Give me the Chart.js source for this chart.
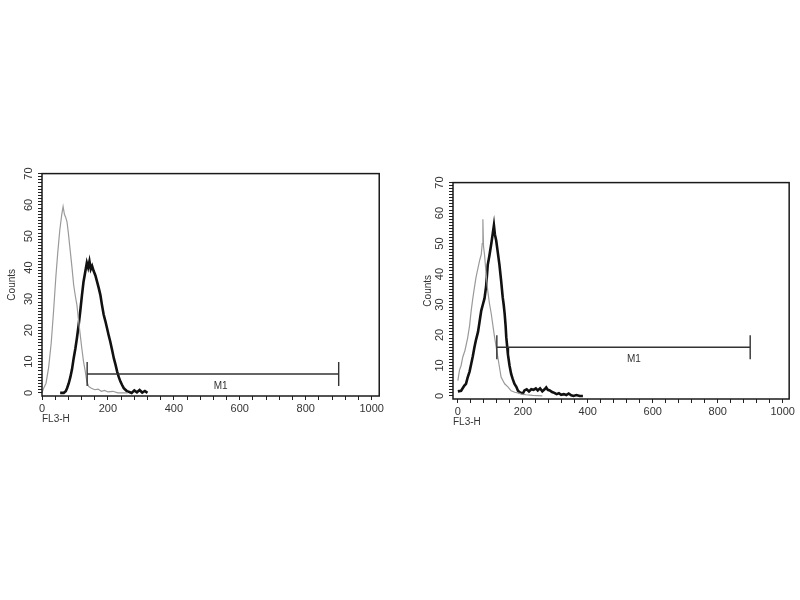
<!DOCTYPE html>
<html>
<head>
<meta charset="utf-8">
<title>FL3-H histograms</title>
<script src="https://cdn.jsdelivr.net/npm/chart.js@4.4.0/dist/chart.umd.min.js"></script>
<style>
  body { margin: 0; background: #fff; }
  #page { position: relative; width: 800px; height: 600px; overflow: hidden; }
  canvas { position: absolute; }
</style>
</head>
<body>
<div id="page">
  <canvas id="left" width="386" height="276" style="left:0px;top:164px"></canvas>
  <canvas id="right" width="386" height="270" style="left:411px;top:173px"></canvas>
</div>
<script>
// left panel - isotype control (grey) and stained sample (black)
var leftIsoCh     = [0, 5, 12, 20, 28, 35, 42, 48, 54, 60, 64, 68, 72, 76, 80, 86, 91, 96, 101, 106, 111, 116, 121, 126, 131, 136, 142, 150, 160, 170, 180, 190, 200, 215, 230, 260];
var leftIsoCounts = [0, 1.5, 3, 8, 16, 26, 37, 45, 52, 57, 59.5, 57, 56, 54.5, 51, 45, 40, 34.5, 31, 28, 23, 18.5, 14, 10, 7, 3.6, 2, 1.5, 1, 1.2, 0.5, 0.8, 0.3, 0.5, 0, 0];
var leftAbCh      = [55, 66, 72, 76, 81, 86, 91, 96, 101, 106, 111, 116, 121, 126, 131, 136, 140, 144, 148, 152, 157, 162, 167, 172, 177, 182, 187, 192, 197, 202, 207, 212, 218, 223, 228, 233, 238, 243, 248, 253, 258, 265, 272, 280, 288, 296, 304, 312, 320];
var leftAbCounts  = [0, 0, 0.5, 1.5, 3, 5, 7.5, 11, 14, 17.5, 21.5, 26, 31, 35.5, 38.5, 41.5, 40, 42, 39.5, 40.5, 38.8, 37.5, 35.5, 33.5, 31.3, 28, 25, 23, 20.8, 18.5, 16.4, 14, 11, 9, 6.8, 5, 3.6, 2.5, 1.5, 1, 0.5, 0.3, 0, 0.8, 0.2, 0.9, 0.1, 0.6, 0];
var leftGate      = [137, 900, 6];

// right panel
var rightIsoCh     = [0, 5, 10, 15, 22, 30, 36, 41, 46, 51, 56, 62, 67, 72, 75, 77, 79, 82, 87, 92, 97, 103, 108, 113, 118, 123, 128, 133, 139, 144, 154, 164, 175, 185, 195, 210, 230, 260];
var rightIsoCounts = [5, 8.5, 10, 12.7, 15, 19, 23, 28, 32, 35.6, 39, 42, 44.5, 46.4, 50, 58, 49, 46.4, 40, 34.5, 30.5, 26.8, 23, 19.3, 16, 12.7, 9.5, 6.2, 5, 4, 3, 1.7, 1.2, 1, 0.6, 0.4, 0.2, 0];
var rightAbCh      = [0, 10, 20, 25, 30, 36, 41, 46, 51, 56, 62, 67, 72, 77, 82, 87, 92, 97, 103, 107, 111, 114, 118, 123, 128, 133, 138, 141, 144, 147, 149, 152, 154, 159, 164, 169, 174, 180, 185, 190, 195, 200, 205, 212, 219, 226, 233, 240, 246, 253, 260, 267, 272, 277, 283, 290, 297, 304, 311, 318, 326, 334, 341, 349, 356, 365, 375, 385];
var rightAbCounts  = [1.5, 1.7, 3.4, 4, 6, 8, 10.5, 13, 16, 18.5, 21, 24.5, 28, 30, 32, 36, 43, 46, 50, 53, 56, 53, 51, 47, 43, 38, 32.4, 30, 27, 23, 19.3, 16, 13.7, 10, 7.2, 5.5, 4, 3, 1.7, 1.2, 1, 0.8, 1.8, 2.2, 1.5, 2.2, 2, 2.5, 1.8, 2.5, 1.5, 2.2, 2.8, 2, 1.8, 1.3, 1.0, 0.6, 0.9, 0.4, 0.6, 0.3, 0.8, 0.2, 0, 0.3, 0, 0];
var rightGate      = [120, 900, 16];

var xLabelTicks = [0, 200, 400, 600, 800, 1000];
var yLabelTicks = [0, 10, 20, 30, 40, 50, 60, 70];

var FONT = '"Liberation Sans", Arial, sans-serif';

var toPoints = function(ch, counts) {
    return ch.map(function(c, i) { return { x: c, y: counts[i] }; });
};

// minor tick marks between the labelled ones
var tickRange = function(last, step) {
    var out = [];
    for (var v = 0; v <= last; v += step) out.push({ value: v });
    return out;
};

// frame around the plot plus the M1 marker bar
var gatePlugin = {
    id: 'gate',
    afterDatasetsDraw: function(chart, args, opts) {
        var ctx = chart.ctx, a = chart.chartArea;
        var xs = chart.scales.x, ys = chart.scales.y;
        ctx.save();
        ctx.strokeStyle = '#1a1a1a';
        ctx.lineWidth = 1.5;
        ctx.strokeRect(a.left, a.top, a.right - a.left, a.bottom - a.top);

        var x1 = xs.getPixelForValue(opts.gate[0]);
        var x2 = xs.getPixelForValue(opts.gate[1]);
        var y = ys.getPixelForValue(opts.gate[2]);
        ctx.strokeStyle = '#333';
        ctx.lineWidth = 1.4;
        ctx.beginPath();
        ctx.moveTo(x1, y); ctx.lineTo(x2, y);
        ctx.moveTo(x1, y - 12); ctx.lineTo(x1, y + 12);
        ctx.moveTo(x2, y - 12); ctx.lineTo(x2, y + 12);
        ctx.stroke();

        ctx.fillStyle = '#333';
        ctx.font = '10px ' + FONT;
        ctx.textAlign = 'center';
        ctx.textBaseline = 'middle';
        ctx.fillText('M1', xs.getPixelForValue(542), y + 12);
        ctx.restore();
    }
};

var makeHistogram = function(id, isoCh, isoCounts, abCh, abCounts, gate, xMin, xMax, padLeft) {
    return new Chart(document.getElementById(id), {
        type: 'line',
        data: {
            datasets: [{
                data: toPoints(isoCh, isoCounts),
                borderColor: '#9a9a9a',
                borderWidth: 1.2,
                pointRadius: 0,
                tension: 0
            }, {
                data: toPoints(abCh, abCounts),
                borderColor: '#111',
                borderWidth: 2.6,
                pointRadius: 0,
                tension: 0
            }]
        },
        options: {
            responsive: false,
            animation: false,
            layout: { padding: { left: padLeft, right: 5, top: 4, bottom: 15 } },
            plugins: {
                legend: { display: false },
                tooltip: { enabled: false },
                gate: { gate: gate }
            },
            scales: {
                x: {
                    type: 'linear',
                    min: xMin,
                    max: xMax,
                    border: { display: false },
                    grid: { drawOnChartArea: false, drawTicks: true, tickLength: 4, tickColor: '#222', tickWidth: 1 },
                    afterBuildTicks: function(scale) { scale.ticks = tickRange(1000, 40); },
                    afterFit: function(scale) { scale.height = 29; },
                    ticks: {
                        autoSkip: false,
                        minRotation: 0,
                        maxRotation: 0,
                        padding: 2,
                        color: '#333',
                        font: { family: FONT, size: 11 },
                        callback: function(v) { return xLabelTicks.indexOf(v) >= 0 ? String(v) : ''; }
                    },
                    title: {
                        display: true,
                        text: 'FL3-H',
                        align: 'start',
                        color: '#333',
                        padding: { top: 0, bottom: 0 },
                        font: { family: FONT, size: 10 }
                    }
                },
                y: {
                    type: 'linear',
                    min: -1,
                    max: 70,
                    border: { display: false },
                    grid: { drawOnChartArea: false, drawTicks: true, tickLength: 4, tickColor: '#222', tickWidth: 1 },
                    afterBuildTicks: function(scale) { scale.ticks = tickRange(70, 1); },
                    afterFit: function(scale) { scale.width = 42 - padLeft; },
                    ticks: {
                        autoSkip: false,
                        minRotation: 90,
                        maxRotation: 90,
                        crossAlign: 'center',
                        padding: 3,
                        color: '#333',
                        font: { family: FONT, size: 11 },
                        callback: function(v) { return yLabelTicks.indexOf(v) >= 0 ? String(v) : ''; }
                    },
                    title: {
                        display: true,
                        text: 'Counts',
                        color: '#333',
                        padding: { top: 0, bottom: 0 },
                        font: { family: FONT, size: 10 }
                    }
                }
            }
        },
        plugins: [gatePlugin]
    });
};

makeHistogram('left', leftIsoCh, leftIsoCounts, leftAbCh, leftAbCounts, leftGate, 0, 1023, 6);
makeHistogram('right', rightIsoCh, rightIsoCounts, rightAbCh, rightAbCounts, rightGate, -15, 1020, 11);
</script>
</body>
</html>
